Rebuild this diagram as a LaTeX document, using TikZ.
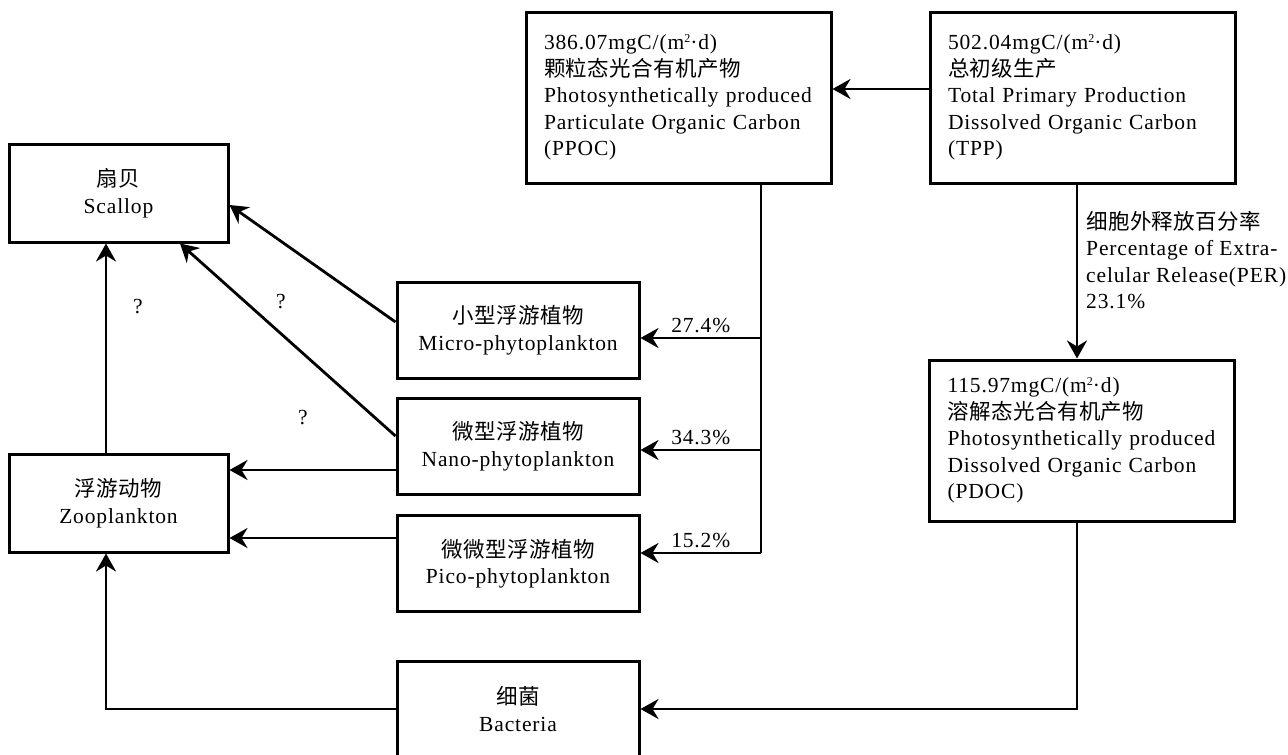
\documentclass[tikz,border=0pt]{standalone}
\usepackage{fontspec}
\setmainfont{Liberation Serif}[LetterSpace=4]
\newfontfamily\cjk{Noto Sans CJK SC}[LetterSpace=2]
\usetikzlibrary{arrows.meta,positioning}

\newcommand{\zh}[1]{{\cjk #1}}
\newcommand{\sqr}{\raisebox{7pt}{\fontsize{12}{12}\selectfont 2}}

\begin{document}
\begin{tikzpicture}[x=1pt,y=-1pt,
        every node/.style={font=\fontsize{21.5}{26.5}\selectfont},
        bigbox/.style={draw,line width=3pt,minimum width=305pt,minimum height=171pt,
            inner sep=0pt,text width=269pt,align=left},
        sidebox/.style={draw,line width=3pt,minimum width=219pt,minimum height=98pt,align=center},
        midbox/.style={draw,line width=3pt,minimum width=242pt,minimum height=96pt,align=center},
        arr/.style={line width=2.8pt,-{Stealth[length=18pt,width=20pt,inset=6pt]}},
        link/.style={line width=2.8pt}]
    \useasboundingbox (0,0) rectangle (1288,755);

    % carbon pools
    \node[bigbox] (ppoc) at (678.5,97.5) {386.07mgC/(m\sqr·d)\\ \zh{颗粒态光合有机产物}\\ Photosynthetically produced\\ Particulate Organic Carbon\\ (PPOC)};
    \node[bigbox] (tpp) at (1082.5,97.5) {502.04mgC/(m\sqr·d)\\ \zh{总初级生产}\\ Total Primary Production\\ Dissolved Organic Carbon\\ (TPP)};
    \node[bigbox,minimum height=161pt] (pdoc) at (1082,440.5) {115.97mgC/(m\sqr·d)\\ \zh{溶解态光合有机产物}\\ Photosynthetically produced\\ Dissolved Organic Carbon\\ (PDOC)};

    % consumers
    \node[sidebox] (scallop) at (118.5,193) {\zh{扇贝}\\ Scallop};
    \node[sidebox] (zoo) at (118.5,503) {\zh{浮游动物}\\ Zooplankton};

    % phytoplankton and bacteria
    \node[midbox] (micro) at (518,330) {\zh{小型浮游植物}\\ Micro-phytoplankton};
    \node[midbox] (nano) at (518,446) {\zh{微型浮游植物}\\ Nano-phytoplankton};
    \node[midbox] (pico) at (518,563.5) {\zh{微微型浮游植物}\\ Pico-phytoplankton};
    \node[midbox] (bact) at (518,709) {\zh{细菌}\\ Bacteria};

    \node[anchor=north west,inner sep=0pt,align=left] (per) at (1086,211) {\zh{细胞外释放百分率}\\ Percentage of Extra-\\ celular Release(PER)\\ 23.1\%};
    \node (q1) at (138,307) {?};
    \node (q2) at (281,302) {?};
    \node (q3) at (303,418) {?};

    % flows from TPP
    \draw[arr] ([yshift=8.5pt]tpp.west) -- ([yshift=8.5pt]ppoc.east);
    \draw[arr] ([xshift=-5.5pt]tpp.south) -- ([xshift=-5pt]pdoc.north);

    % PPOC split to size classes
    \coordinate (split) at (761,553);
    \coordinate (lmicro) at ([yshift=-8pt]micro.east);
    \coordinate (lnano) at ([yshift=-4pt]nano.east);
    \coordinate (lpico) at ([yshift=10.5pt]pico.east);
    \draw[link] (ppoc.south -| split) -- (split);
    \draw[arr] (lmicro -| split) -- node[above] (pmicro) {27.4\%} (lmicro);
    \draw[arr] (lnano -| split) -- node[above] (pnano) {34.3\%} (lnano);
    \draw[arr] (lpico -| split) -- node[above] (ppico) {15.2\%} (lpico);

    % grazing
    \coordinate (nz) at ([yshift=-24pt]nano.west);
    \coordinate (pz) at ([yshift=25.5pt]pico.west);
    \draw[arr] ([yshift=8pt]micro.west) -- ([yshift=-12pt]scallop.east);
    \draw[arr] ([yshift=10pt]nano.west) -- ([xshift=61.5pt]scallop.south);
    \draw[arr] (nz) -- (nz -| zoo.east);
    \draw[arr] (pz) -- (pz -| zoo.east);
    \draw[arr] ([xshift=-12.5pt]zoo.north) -- ([xshift=-12.5pt]scallop.south);

    % microbial loop
    \draw[arr] ([xshift=-5pt]pdoc.south) |- (bact.east);
    \draw[arr] (bact.west) -| ([xshift=-12.5pt]zoo.south);
\end{tikzpicture}
\end{document}
